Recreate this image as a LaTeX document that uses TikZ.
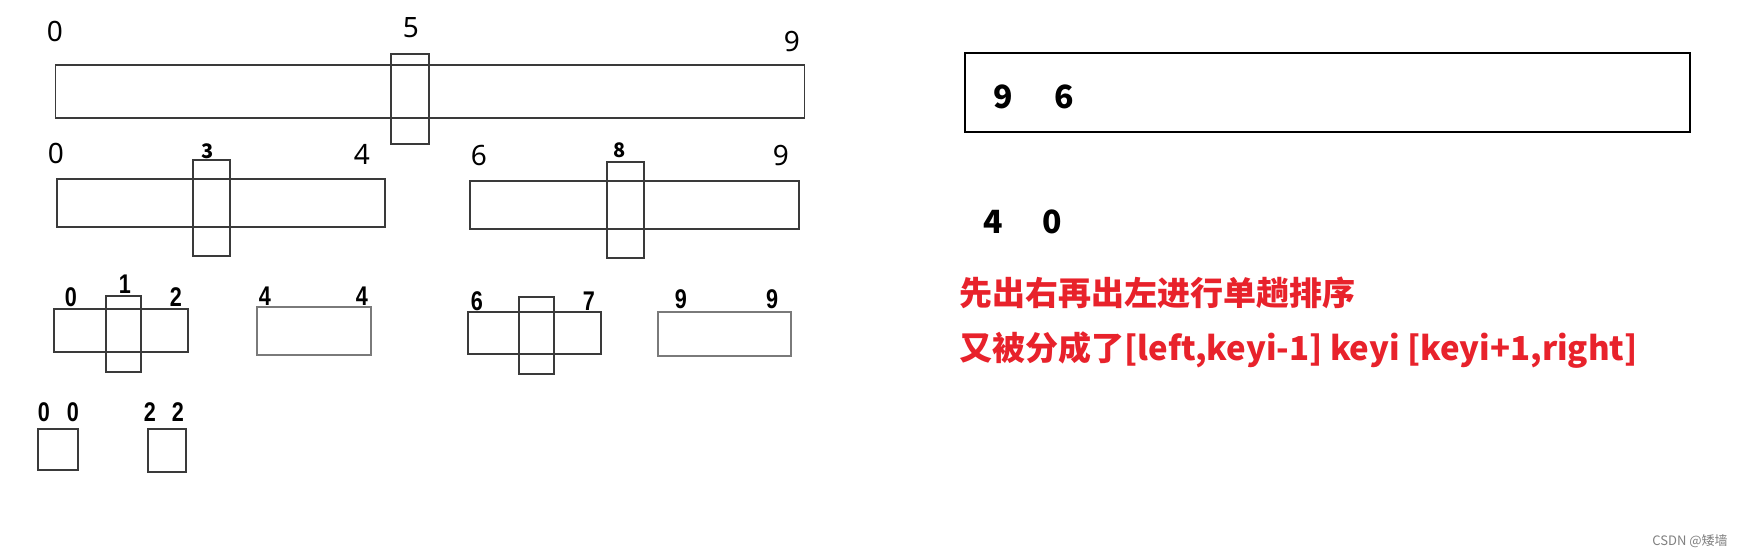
\documentclass[tikz,border=0pt]{standalone}
\usepackage{fontspec}
\setmainfont{Noto Sans}
\newfontfamily\cjk{Noto Sans CJK SC}
\newfontfamily\narrowb{Liberation Sans}[FakeStretch=0.8]
\definecolor{redtxt}{HTML}{E8222B}
\definecolor{thinline}{HTML}{3A3A3A}
\definecolor{grayline}{HTML}{7A7A7A}
\tikzset{
  sz/.style 2 args={minimum width=#1*0.5pt, minimum height=#2*0.5pt, inner sep=0pt, outer sep=0pt},
  seg/.style={draw=thinline, line width=0.55pt},
  segbold/.style={draw=grayline, line width=1.3pt},
  stackbox/.style={draw=black, line width=1.1pt},
  lbl/.style={inner sep=0pt, font=\fontsize{14}{14}\selectfont},
  lblb/.style={inner sep=0pt, font=\fontsize{10}{10}\selectfont\cjk\bfseries},
  lbln/.style={inner sep=0pt, font=\fontsize{13.5}{13.5}\selectfont\narrowb\bfseries},
  lblbig/.style={inner sep=0pt, font=\fontsize{16}{16}\selectfont\cjk\bfseries},
  redline/.style={inner sep=0pt, anchor=west, text=redtxt, font=\fontsize{16.5}{16.5}\selectfont\cjk\bfseries},
}
\begin{document}
\begin{tikzpicture}[x=0.5pt, y=-0.5pt]
\path[fill=white] (0,0) rectangle (1742,557);
\useasboundingbox (0,0) rectangle (1742,557);
% level 0
\node[seg, sz={748.5}{53}] (r0) at (430,91.5) {};
\node[seg, sz={38}{90}] (p5) at (410,99) {};
\node[lbl] (l0a) at (55,31) {0};
\node[lbl] (l0b) at (411,28) {5};
\node[lbl] (l0c) at (792,42) {9};
% level 1
\node[seg, sz={328}{48}] (r1) at (221,203) {};
\node[seg, sz={37}{96}] (p3) at (211.5,208) {};
\node[seg, sz={329}{48}] (r2) at (634.5,205) {};
\node[seg, sz={37}{96}] (p8) at (625.5,210) {};
\node[lbl] (l1a) at (56,153) {0};
\node[lblb] (l1b) at (208,151) {3};
\node[lbl] (l1c) at (362,154) {4};
\node[lbl] (l1d) at (479,156) {6};
\node[lblb] (l1e) at (620,150) {8};
\node[lbl] (l1f) at (781,156) {9};
% level 2
\node[seg, sz={134}{43}] (r3) at (121,330.5) {};
\node[seg, sz={35}{76}] (p1) at (123.5,334) {};
\node[segbold, sz={114}{48}] (r4) at (314,331) {};
\node[seg, sz={133}{42}] (r5) at (534.5,333) {};
\node[seg, sz={35}{77}] (p7) at (536.5,335.5) {};
\node[segbold, sz={133}{44}] (r6) at (724.5,334) {};
\node[lbln] (l2a) at (71,297) {0};
\node[lbln] (l2b) at (125,284) {1};
\node[lbln] (l2c) at (176,297) {2};
\node[lbln] (l2d) at (265,296) {4};
\node[lbln] (l2e) at (362,296) {4};
\node[lbln] (l2f) at (477,301) {6};
\node[lbln] (l2g) at (589,301) {7};
\node[lbln] (l2h) at (681,299) {9};
\node[lbln] (l2i) at (772,299) {9};
% level 3
\node[seg, sz={40}{41}] (r7) at (58,449.5) {};
\node[seg, sz={38}{43}] (r8) at (167,450.5) {};
\node[lbln] (l3a) at (44,412) {0};
\node[lbln] (l3b) at (73,412) {0};
\node[lbln] (l3c) at (150,412) {2};
\node[lbln] (l3d) at (178,412) {2};
% stack
\node[stackbox, sz={725}{79}] (st) at (1327.5,92.5) {};
\node[lblbig] (s9) at (1003,97) {9};
\node[lblbig] (s6) at (1064,97) {6};
\node[lblbig] (s4) at (993,222) {4};
\node[lblbig] (s0) at (1052,222) {0};
% red notes
\node[redline] (t1) at (959,293) {先出右再出左进行单趟排序};
\node[redline] (t2) at (959,350) {又被分成了[left,keyi-1] keyi [keyi+1,right]};
% watermark
\node[inner sep=0pt, anchor=east, text=gray, font=\fontsize{6.5}{6.5}\selectfont\cjk] (wm) at (1728,541) {CSDN @矮墙};
\end{tikzpicture}
\end{document}
